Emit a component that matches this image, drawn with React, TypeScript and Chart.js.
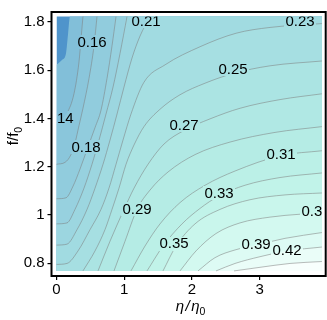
import React, { useEffect, useRef } from "react";
import { Chart, registerables } from "chart.js";

Chart.register(...registerables);

// ---- plot range (data units) ----
const xRange = [0, 3.92];
const yRange = [0.768, 1.822];
const xAxisRange = [-0.074, 3.976];
const yAxisRange = [0.747, 1.841];

const xTicks = [0, 1, 2, 3];
const yTicks = [0.8, 1, 1.2, 1.4, 1.6, 1.8];

// ---- contour levels, from low to high ----
const levels = [0.121, 0.14, 0.159, 0.177, 0.196, 0.215, 0.233, 0.252, 0.271, 0.29, 0.308, 0.327, 0.345, 0.364, 0.383, 0.401, 0.42];

// ---- contour lines (eta/eta0, f/f0) ----
const c0121: number[][] = [[0, 1.622], [0.081, 1.642], [0.14, 1.669], [0.17, 1.749], [0.199, 1.822]];
const c014: number[][] = [[0, 1.378], [0.081, 1.398], [0.155, 1.422], [0.258, 1.502], [0.332, 1.634], [0.362, 1.729], [0.391, 1.822]];
const c0159: number[][] = [[0, 1.21], [0.126, 1.218], [0.214, 1.25], [0.273, 1.298], [0.332, 1.37], [0.391, 1.442], [0.48, 1.566], [0.554, 1.701], [0.598, 1.822]];
const c0177: number[][] = [[0, 1.067], [0.14, 1.071], [0.244, 1.119], [0.347, 1.19], [0.465, 1.282], [0.569, 1.362], [0.657, 1.434], [0.746, 1.566], [0.82, 1.701], [0.879, 1.822]];
const c0196: number[][] = [[0, 0.963], [0.155, 0.967], [0.273, 1.023], [0.406, 1.111], [0.524, 1.21], [0.628, 1.31], [0.731, 1.418], [0.835, 1.53], [0.938, 1.669], [1.041, 1.822]];
const c0215: number[][] = [[0, 0.875], [0.155, 0.879], [0.303, 0.939], [0.451, 1.023], [0.569, 1.111], [0.687, 1.21], [0.79, 1.31], [0.894, 1.418], [0.997, 1.53], [1.115, 1.65], [1.233, 1.741], [1.381, 1.822]];
const c0233: number[][] = [[0, 0.795], [0.155, 0.799], [0.318, 0.851], [0.495, 0.939], [0.657, 1.023], [0.775, 1.111], [0.879, 1.21], [0.982, 1.31], [1.1, 1.418], [1.292, 1.55], [1.603, 1.622], [2.12, 1.697], [2.652, 1.753], [3.154, 1.777], [3.92, 1.793]];
const c0252: number[][] = [[0.391, 0.768], [0.569, 0.851], [0.716, 0.939], [0.82, 1.023], [0.923, 1.111], [1.027, 1.21], [1.145, 1.29], [1.292, 1.366], [1.529, 1.438], [1.824, 1.498], [2.194, 1.546], [2.607, 1.586], [3.154, 1.618], [3.92, 1.638]];
const c0271: number[][] = [[0.613, 0.768], [0.79, 0.891], [0.997, 1.023], [1.145, 1.111], [1.352, 1.21], [1.588, 1.294], [1.883, 1.35], [2.267, 1.398], [2.71, 1.442], [3.301, 1.478], [3.92, 1.502]];
const c029: number[][] = [[0.849, 0.768], [1.012, 0.891], [1.189, 1.023], [1.381, 1.103], [1.647, 1.178], [2.046, 1.25], [2.563, 1.302], [3.227, 1.342], [3.92, 1.366]];
const c0308: number[][] = [[1.1, 0.768], [1.307, 0.871], [1.529, 0.963], [1.824, 1.051], [2.194, 1.123], [2.637, 1.182], [3.316, 1.246], [3.92, 1.266]];
const c0327: number[][] = [[1.337, 0.768], [1.573, 0.871], [1.854, 0.963], [2.12, 1.027], [2.4, 1.079], [2.784, 1.123], [3.301, 1.155], [3.92, 1.174]];
const c0345: number[][] = [[1.573, 0.768], [1.765, 0.871], [2.046, 0.963], [2.415, 1.023], [2.858, 1.063], [3.375, 1.083], [3.92, 1.091]];
const c0364: number[][] = [[1.824, 0.768], [2.061, 0.851], [2.356, 0.923], [2.71, 0.967], [3.154, 0.991], [3.597, 1.003], [3.92, 1.007]];
const c0383: number[][] = [[2.09, 0.768], [2.341, 0.823], [2.637, 0.855], [2.947, 0.875], [3.375, 0.903], [3.92, 0.927]];
const c0401: number[][] = [[2.356, 0.768], [2.637, 0.799], [3.006, 0.827], [3.405, 0.851], [3.92, 0.867]];
const c042: number[][] = [[2.622, 0.768], [3.006, 0.783], [3.449, 0.799], [3.92, 0.807]];

const contours = [c0121, c014, c0159, c0177, c0196, c0215, c0233, c0252, c0271, c029, c0308, c0327, c0345, c0364, c0383, c0401, c042];
const strokedFrom = 1; // the lowest level is shown only as a colour edge

// colour of each band, from the lowest (below the first level) to the highest
const bandColors = ["#4f94cb", "#82bfd9", "#8ac6db", "#91ccdd", "#97d1df", "#9cd6e0", "#a1dbe1", "#a6dfe2", "#abe4e3", "#b0e8e4", "#b5ece5", "#bbf0e7", "#c1f3e9", "#c9f6ec", "#d3f9f0", "#ddfbf4", "#eafdf8", "#f8fffd"];

// contour labels
const labelTexts = ["0.14", "0.16", "0.18", "0.21", "0.23", "0.25", "0.27", "0.29", "0.31", "0.33", "0.35", "0.37", "0.39", "0.42"];
const labelX = [0.037, 0.524, 0.436, 1.322, 3.597, 2.607, 1.883, 1.189, 3.316, 2.4, 1.736, 3.833, 2.947, 3.405];
const labelY = [1.398, 1.713, 1.278, 1.801, 1.801, 1.602, 1.37, 1.023, 1.25, 1.087, 0.879, 1.011, 0.875, 0.851];

const FONT = "'Liberation Sans', Arial, Helvetica, sans-serif";
const LABEL_FONT = `15px ${FONT}`;

const toPts = (arr: number[][]) => arr.map(([x, y]) => ({ x, y }));

function fillPoints(arr: number[][]) {
  const pts = toPts(arr);
  const last = pts[pts.length - 1];
  if (last.y >= yRange[1] && last.x < xRange[1]) pts.push({ x: xRange[1], y: yRange[1] });
  return pts;
}

function labelBoxes(chart: any) {
  const { ctx, scales } = chart;
  ctx.save();
  ctx.font = LABEL_FONT;
  const boxes = labelTexts.map((txt, i) => {
    const w = ctx.measureText(txt).width + 2;
    const cx = scales.x.getPixelForValue(labelX[i]);
    const cy = scales.y.getPixelForValue(labelY[i]);
    return { x: Math.floor(cx - w / 2), y: Math.floor(cy - 7), w: Math.ceil(w), h: 14 };
  });
  ctx.restore();
  return boxes;
}

const labelsPlugin = {
  id: "contourLabels",
  beforeDatasetsDraw(chart: any) {
    // keep the filled bands under each label so the contour lines are broken there
    const { ctx } = chart;
    const r = chart.currentDevicePixelRatio || 1;
    chart.$labelSaved = labelBoxes(chart).map((b: any) => ({
      b,
      img: ctx.getImageData(Math.round(b.x * r), Math.round(b.y * r), Math.max(1, Math.round(b.w * r)), Math.round(b.h * r)),
    }));
  },
  afterDatasetsDraw(chart: any) {
    const { ctx, scales } = chart;
    const r = chart.currentDevicePixelRatio || 1;
    (chart.$labelSaved || []).forEach(({ b, img }: any) => {
      ctx.putImageData(img, Math.round(b.x * r), Math.round(b.y * r));
    });
    const xs = scales.x, ys = scales.y;
    const l = xs.getPixelForValue(xRange[0]);
    const rr = xs.getPixelForValue(xRange[1]);
    const t = ys.getPixelForValue(yRange[1]);
    const bt = ys.getPixelForValue(yRange[0]);
    ctx.save();
    ctx.beginPath();
    ctx.rect(l, t, rr - l, bt - t);
    ctx.clip();
    ctx.font = LABEL_FONT;
    ctx.fillStyle = "#000";
    ctx.textAlign = "center";
    ctx.textBaseline = "middle";
    labelTexts.forEach((txt, i) => {
      ctx.fillText(txt, xs.getPixelForValue(labelX[i]), ys.getPixelForValue(labelY[i]));
    });
    ctx.restore();
  },
};

const framePlugin = {
  id: "frameAndTitles",
  afterDraw(chart: any) {
    const { ctx, chartArea } = chart;
    ctx.save();
    ctx.strokeStyle = "#000";
    ctx.lineWidth = 2;
    ctx.strokeRect(chartArea.left, chartArea.top, chartArea.right - chartArea.left, chartArea.bottom - chartArea.top);

    // x title: eta / eta0
    ctx.fillStyle = "#000";
    ctx.textBaseline = "alphabetic";
    ctx.textAlign = "left";
    const cx = (chartArea.left + chartArea.right) / 2 + 2;
    const big = `italic 15px ${FONT}`;
    const small = `10.5px ${FONT}`;
    ctx.font = big;
    const wEta = ctx.measureText("η").width;
    const wSl = ctx.measureText("/").width;
    ctx.font = small;
    const wSub = ctx.measureText("0").width;
    const gap = 1.5;
    const total = wEta + gap + wSl + gap + wEta + wSub;
    let x0 = cx - total / 2;
    const by = chartArea.bottom + 35;
    ctx.font = big;
    ctx.fillText("η", x0, by);
    x0 += wEta + gap;
    ctx.fillText("/", x0, by);
    x0 += wSl + gap;
    ctx.fillText("η", x0, by);
    x0 += wEta;
    ctx.font = small;
    ctx.fillText("0", x0, by + 4);

    // y title: f/f0
    const cy = (chartArea.top + chartArea.bottom) / 2 - 8;
    ctx.translate(18, cy);
    ctx.rotate(-Math.PI / 2);
    const ymain = "f/f";
    ctx.font = `15px ${FONT}`;
    const v1 = ctx.measureText(ymain).width;
    ctx.font = small;
    const v2 = ctx.measureText("0").width;
    const s0 = -(v1 + v2) / 2;
    ctx.font = `15px ${FONT}`;
    ctx.fillText(ymain, s0, 0);
    ctx.font = small;
    ctx.fillText("0", s0 + v1, 4);
    ctx.restore();
  },
};

export default function App() {
  const ref = useRef<HTMLCanvasElement | null>(null);

  useEffect(() => {
    if (!ref.current) return;
    const datasets: any[] = [];
    // fills: highest level first (painted last, on top)
    for (let k = contours.length - 1; k >= 0; k--) {
      datasets.push({
        data: fillPoints(contours[k]),
        showLine: true,
        borderWidth: 0,
        pointRadius: 0,
        backgroundColor: bandColors[k + 1],
        fill: { value: yRange[0] },
        cubicInterpolationMode: "monotone",
      });
    }
    // base band below the lowest level
    datasets.push({
      data: [{ x: xRange[0], y: yRange[1] }, { x: xRange[1], y: yRange[1] }],
      showLine: true,
      borderWidth: 0,
      pointRadius: 0,
      backgroundColor: bandColors[0],
      fill: { value: yRange[0] },
    });
    // contour lines
    for (let k = strokedFrom; k < contours.length; k++) {
      datasets.push({
        data: toPts(contours[k]),
        showLine: true,
        borderWidth: 0.7,
        borderColor: "rgba(125,125,125,0.75)",
        pointRadius: 0,
        fill: false,
        cubicInterpolationMode: "monotone",
      });
    }

    const tickFont = { family: FONT, size: 15 };
    const chart = new Chart(ref.current, {
      type: "scatter",
      data: { datasets },
      options: {
        animation: false,
        responsive: true,
        maintainAspectRatio: false,
        layout: { padding: { left: 0, top: 2, right: 1.3, bottom: 0 } },
        plugins: {
          legend: { display: false },
          tooltip: { enabled: false },
          filler: { drawTime: "beforeDatasetsDraw" },
        },
        scales: {
          x: {
            type: "linear",
            min: xAxisRange[0],
            max: xAxisRange[1],
            afterBuildTicks: (axis: any) => {
              axis.ticks = xTicks.map((v) => ({ value: v }));
            },
            afterFit: (axis: any) => {
              axis.height = 44;
            },
            ticks: {
              autoSkip: false,
              maxRotation: 0,
              color: "#000",
              font: tickFont,
              padding: 1,
              callback: (v: any) => String(Math.round(Number(v) * 10) / 10),
            },
            grid: { drawOnChartArea: false, drawTicks: true, tickLength: 4, color: "#000", lineWidth: 1.2 },
            border: { display: false },
          },
          y: {
            type: "linear",
            min: yAxisRange[0],
            max: yAxisRange[1],
            afterBuildTicks: (axis: any) => {
              axis.ticks = yTicks.map((v) => ({ value: v }));
            },
            afterFit: (axis: any) => {
              axis.width = 51.5;
            },
            ticks: {
              autoSkip: false,
              color: "#000",
              font: tickFont,
              padding: 3,
              callback: (v: any) => String(Math.round(Number(v) * 10) / 10),
            },
            grid: { drawOnChartArea: false, drawTicks: true, tickLength: 4, color: "#000", lineWidth: 1.2 },
            border: { display: false },
          },
        },
      },
      plugins: [labelsPlugin, framePlugin],
    } as any);
    return () => chart.destroy();
  }, []);

  return (
    <div style={{ position: "fixed", left: 0, top: 0, width: 327, height: 320, background: "#fff" }}>
      <canvas ref={ref} />
    </div>
  );
}
